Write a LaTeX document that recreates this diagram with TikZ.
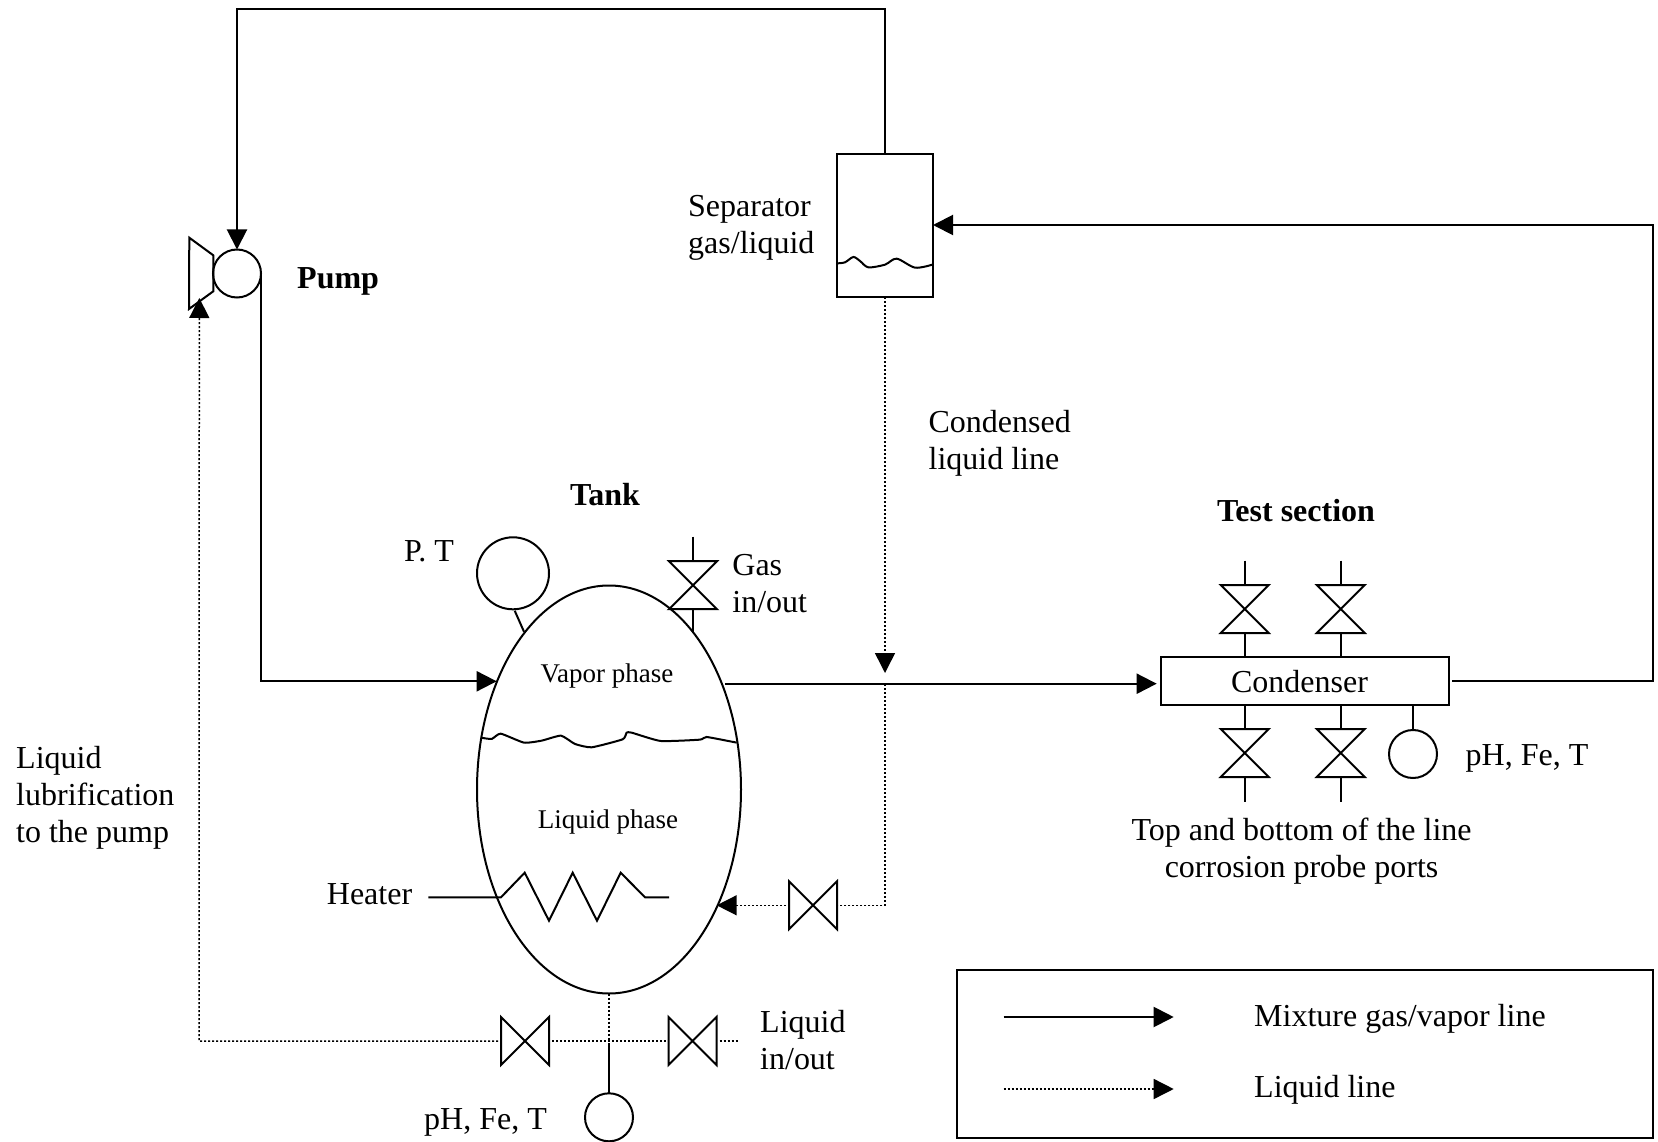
\documentclass[tikz,border=0pt]{standalone}
\usepackage{fontspec}
\setmainfont{Liberation Serif}
\usetikzlibrary{arrows.meta,shapes.geometric}
\tikzset{
  line/.style={line width=2pt,line join=miter},
  thinline/.style={line width=2pt},
  arr/.style={line width=2pt,-{Triangle[length=20pt,width=20pt]}},
  dotline/.style={line width=1.5pt,dash pattern=on 2pt off 2pt},
  dotarr/.style={dotline,-{Triangle[length=20pt,width=20pt]}},
  gauge/.style={circle,draw,line width=2pt,inner sep=0pt,outer sep=0pt,minimum size=48pt},
  box/.style={rectangle,draw,line width=2pt,inner sep=0pt,outer sep=0pt},
  valvebox/.style={rectangle,inner sep=0pt,outer sep=0pt,minimum size=48pt},
  lbl/.style={font=\fontsize{32}{37}\selectfont,inner sep=0pt,align=left},
  lblc/.style={font=\fontsize{32}{37}\selectfont,inner sep=0pt,align=center},
  lblb/.style={font=\fontsize{32}{37}\selectfont\bfseries,inner sep=0pt,align=center},
  lbls/.style={font=\fontsize{27}{30}\selectfont,inner sep=0pt,align=center},
}
% horizontal-flow bow tie (triangles point at each other left/right)
\newcommand{\valveH}[3]{\node[valvebox] (#1) at (#2,#3) {};
  \draw[thinline,line join=miter] (#1.north west)--(#1.south east)--(#1.north east)--(#1.south west)--cycle;}
% vertical-flow bow tie
\newcommand{\valveV}[3]{\node[valvebox] (#1) at (#2,#3) {};
  \draw[thinline,line join=miter] (#1.north west)--(#1.north east)--(#1.south west)--(#1.south east)--cycle;}
\begin{document}
\begin{tikzpicture}[x=1pt,y=-1pt]
\useasboundingbox (0,0) rectangle (1658,1142);

% Equipment
\node[gauge] (pump) at (237,273.5) {};
\coordinate (tr1) at (189.3,237.7);
\coordinate (tr2) at (213.3,255.3);
\coordinate (tr3) at (213.3,291.3);
\coordinate (tr4) at (189,309);
\draw[line] (tr1)--(tr2)--(tr3)--(tr4)--cycle;

\node[ellipse,draw,line width=2pt,inner sep=0pt,outer sep=0pt,minimum width=264pt,minimum height=408pt] (tank) at (609,789.5) {};
\node[gauge,minimum size=72pt] (pt) at (513,573.3) {};
\node[box,minimum width=96pt,minimum height=143.6pt] (sep) at (885,225.5) {};
\node[box,minimum width=288pt,minimum height=48pt] (cond) at (1304.7,681.3) {};
\node[lblc] (tcond) at (1299.5,681.8) {Condenser};
\node[gauge] (gcond) at (1413,754) {};
\node[gauge] (gtank) at (609,1117.3) {};

% Valves
\valveV{vgas}{693}{585.2}
\valveV{vt1}{1244.7}{609}
\valveV{vt2}{1340.7}{609}
\valveV{vb1}{1244.7}{753}
\valveV{vb2}{1340.7}{753}
\valveH{vcl}{813}{905.3}
\valveH{vll}{525}{1041}
\valveH{vlr}{692.5}{1041}

% Free-end coordinates
\coordinate (topc) at (237,9.5);
\coordinate (tankin) at (496.7,681.3);
\coordinate (pumpc) at (261,681.3);
\coordinate (tankout) at (725,683.7);
\coordinate (condin) at (1156.7,683.7);
\coordinate (condout) at (1452.3,680.7);
\coordinate (rc) at (1652.7,680.7);
\coordinate (sepin) at (933,225);
\coordinate (rc2) at (1652.7,225);
\coordinate (clarr) at (885,673);
\coordinate (clres) at (885,684);
\coordinate (clc) at (885,905.3);
\coordinate (tankback) at (716.7,905.3);
\coordinate (tee) at (609,1041);
\coordinate (lubc) at (199,1041);
\coordinate (pumpin) at (199.3,298);
\coordinate (lrend) at (738,1041);
\coordinate (gasend) at (693,536.7);
\coordinate (gastank) at (693,631.7);
\coordinate (ptl1) at (514.7,610.7);
\coordinate (ptl2) at (524,631.7);
\coordinate (vt1e) at (1244.7,560.7);
\coordinate (vt2e) at (1340.7,560.7);
\coordinate (vb1e) at (1244.7,801.7);
\coordinate (vb2e) at (1340.7,801.7);

% Mixture lines
\draw[arr] (sep.north) |- (topc) -- (pump.north);
\draw[arr] (pump.east) -- (pumpc) -- (tankin);
\draw[arr] (tankout) -- (condin);
\draw[arr] (condout) -- (rc) -- (rc2) -- (sepin);

% Liquid lines
\draw[dotarr] (sep.south) -- (clarr);
\draw[dotline] (clres) -- (clc) -- (vcl.east);
\draw[dotarr,shorten <=3pt] (vcl.west) -- (tankback);
\draw[dotline] (tank.south) -- (tee);
\draw[dotline,shorten <=3pt,shorten >=3pt] (vll.east) -- (vlr.west);
\draw[dotline,shorten <=3pt] (vlr.east) -- (lrend);
\draw[dotarr,shorten <=3pt] (vll.west) -- (lubc) -- (pumpin);

% Stubs
\draw[thinline] (tee) ++(0,2) -- (gtank.north);
\draw[thinline] (gasend) -- (vgas.north);
\draw[thinline] (vgas.south) -- (gastank);
\draw[thinline] (ptl1) -- (ptl2);
\draw[thinline] (vt1e) -- (vt1.north);
\draw[thinline] (vt2e) -- (vt2.north);
\draw[thinline] (vt1.south) -- (vt1.south |- cond.north);
\draw[thinline] (vt2.south) -- (vt2.south |- cond.north);
\draw[thinline] (vb1.north) -- (vb1.north |- cond.south);
\draw[thinline] (vb2.north) -- (vb2.north |- cond.south);
\draw[thinline] (vb1.south) -- (vb1e);
\draw[thinline] (vb2.south) -- (vb2e);
\draw[thinline] (gcond.north) -- (gcond.north |- cond.south);

% Heater
\coordinate (hl) at (428.3,897.3);
\draw[thinline,line join=miter] (hl) -- (501,897.3) -- (524.7,872.7) -- (549,920.7) -- (572.7,872.7) -- (597,920.7) -- (620.7,872.7) -- (645,897.3) -- (669,897.3);

% Liquid surface in the tank
\begin{scope}[shift={(450,520)},x=0.3333pt,y=-0.3333pt]
\draw[thinline] plot[smooth,tension=0.3] coordinates {(93,653)(125,657)(152,641)(222,668)(275,662)(333,647)(375,672)(425,682)(518,658)(530,638)(545,638)(632,663)(750,659)(770,651)(860,668)};
\end{scope}
% Liquid surface in the separator
\begin{scope}[shift={(820,140)},x=0.3333pt,y=-0.3333pt]
\draw[thinline] plot[smooth,tension=0.5] coordinates {(52,370)(75,367)(100,351)(120,363)(145,382)(195,374)(230,356)(285,383)(337,374)};
\end{scope}

% Legend
\node[box,minimum width=695.7pt,minimum height=168pt] (legend) at (1304.8,1053.6) {};
\coordinate (l1a) at (1003.5,1017);
\coordinate (l1b) at (1173.7,1017);
\coordinate (l2a) at (1003.5,1089);
\coordinate (l2b) at (1173.7,1089);
\draw[arr] (l1a) -- (l1b);
\draw[dotarr] (l2a) -- (l2b);
\node[lbl,anchor=west] (leg1) at (1254,1019) {Mixture gas/vapor line};
\node[lbl,anchor=west] (leg2) at (1254,1090) {Liquid line};

% Labels
\node[lblb,anchor=west] (tpump) at (297,281) {Pump};
\node[lbl,anchor=west] (tsep) at (688,228) {Separator\\gas/liquid};
\node[lbl,anchor=west] (tcl) at (928.4,443) {Condensed\\liquid line};
\node[lblb] (ttank) at (605,495) {Tank};
\node[lbl,anchor=west] (tpt) at (404,551) {P. T};
\node[lbl,anchor=west] (tgas) at (732.2,583.5) {Gas\\in/out};
\node[lblb] (ttest) at (1296,511) {Test section};
\node[lbl,anchor=west] (tph) at (1465.5,758) {pH, Fe, T};
\node[lblc] (tports) at (1301.6,851.5) {Top and bottom of the line\\corrosion probe ports};
\node[lbl,anchor=west] (tlub) at (16,798) {Liquid\\lubrification\\to the pump};
\node[lbls] (tvap) at (607,676) {Vapor phase};
\node[lbls] (tliq) at (608,822.5) {Liquid phase};
\node[lbl,anchor=west] (theat) at (326.7,894.6) {Heater};
\node[lbl,anchor=west] (tlio) at (760,1040.5) {Liquid\\in/out};
\node[lbl,anchor=west] (tph2) at (424,1122) {pH, Fe, T};
\end{tikzpicture}
\end{document}
